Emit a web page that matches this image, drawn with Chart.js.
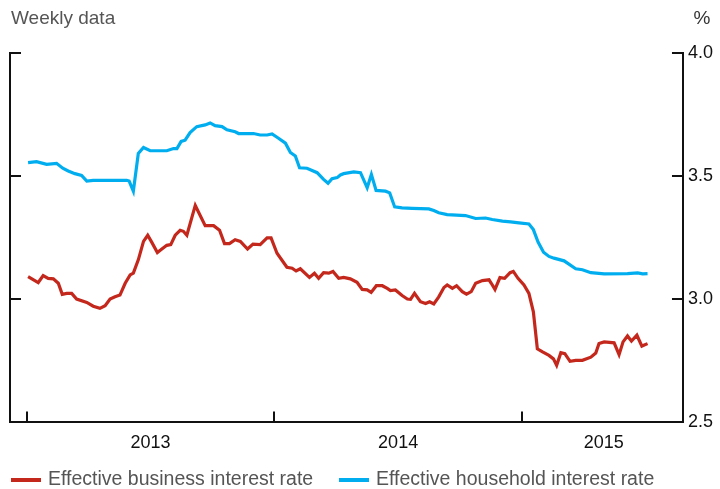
<!DOCTYPE html>
<html>
<head>
<meta charset="utf-8">
<script src="https://cdn.jsdelivr.net/npm/chart.js@4/dist/chart.umd.min.js"></script>
<style>
  html, body { margin: 0; padding: 0; background: #fff; }
  #wrap { width: 720px; height: 489px; }
</style>
</head>
<body>
<div id="wrap"><canvas id="chart"></canvas></div>
<script>
// weekly readings, x in decimal years
const businessDates = [2013.006,2013.047,2013.067,2013.087,2013.108,2013.128,2013.144,2013.162,2013.182,2013.202,2013.243,2013.269,2013.296,2013.317,2013.337,2013.357,2013.377,2013.398,2013.418,2013.431,2013.451,2013.472,2013.489,2013.505,2013.528,2013.546,2013.566,2013.582,2013.600,2013.620,2013.633,2013.647,2013.681,2013.721,2013.755,2013.779,2013.799,2013.819,2013.842,2013.863,2013.892,2013.914,2013.943,2013.971,2013.987,2014.011,2014.051,2014.072,2014.088,2014.105,2014.142,2014.162,2014.179,2014.199,2014.220,2014.237,2014.260,2014.280,2014.307,2014.334,2014.355,2014.375,2014.391,2014.412,2014.436,2014.456,2014.469,2014.489,2014.516,2014.537,2014.550,2014.566,2014.590,2014.611,2014.627,2014.644,2014.664,2014.685,2014.698,2014.719,2014.736,2014.759,2014.776,2014.795,2014.813,2014.840,2014.867,2014.876,2014.891,2014.911,2014.930,2014.952,2014.965,2014.984,2015.008,2015.028,2015.046,2015.062,2015.083,2015.109,2015.127,2015.140,2015.157,2015.173,2015.194,2015.217,2015.244,2015.278,2015.298,2015.311,2015.332,2015.372,2015.392,2015.408,2015.426,2015.442,2015.464,2015.484,2015.507];
const businessRate = [3.092,3.068,3.096,3.085,3.083,3.065,3.020,3.024,3.024,3.001,2.987,2.972,2.963,2.974,3.001,3.010,3.017,3.065,3.099,3.106,3.160,3.235,3.260,3.232,3.190,3.204,3.219,3.222,3.260,3.280,3.276,3.260,3.381,3.299,3.299,3.280,3.226,3.226,3.242,3.235,3.204,3.224,3.222,3.249,3.249,3.187,3.130,3.126,3.115,3.124,3.089,3.106,3.085,3.108,3.106,3.113,3.085,3.089,3.083,3.069,3.040,3.038,3.028,3.055,3.055,3.044,3.035,3.038,3.015,3.001,3.000,3.024,2.990,2.983,2.990,2.981,3.010,3.048,3.058,3.044,3.055,3.031,3.021,3.031,3.065,3.076,3.079,3.065,3.040,3.088,3.085,3.108,3.113,3.085,3.058,3.024,2.949,2.799,2.786,2.772,2.758,2.732,2.783,2.779,2.748,2.752,2.752,2.765,2.782,2.820,2.827,2.823,2.775,2.827,2.851,2.830,2.854,2.810,2.820];

const householdDates = [2013.006,2013.040,2013.081,2013.121,2013.146,2013.168,2013.195,2013.222,2013.243,2013.269,2013.404,2013.414,2013.431,2013.451,2013.472,2013.499,2013.566,2013.593,2013.607,2013.624,2013.640,2013.660,2013.687,2013.721,2013.741,2013.761,2013.789,2013.809,2013.842,2013.856,2013.916,2013.943,2013.971,2013.991,2014.017,2014.045,2014.065,2014.085,2014.102,2014.132,2014.173,2014.199,2014.217,2014.233,2014.254,2014.267,2014.280,2014.321,2014.348,2014.375,2014.392,2014.411,2014.449,2014.466,2014.486,2014.516,2014.557,2014.624,2014.644,2014.664,2014.698,2014.772,2014.813,2014.853,2014.880,2014.921,2014.954,2014.988,2015.028,2015.046,2015.065,2015.087,2015.109,2015.129,2015.170,2015.217,2015.244,2015.278,2015.332,2015.426,2015.467,2015.487,2015.507];
const householdRate = [3.555,3.559,3.548,3.552,3.532,3.521,3.510,3.503,3.480,3.483,3.483,3.480,3.439,3.592,3.616,3.603,3.603,3.612,3.612,3.641,3.646,3.677,3.701,3.708,3.716,3.705,3.701,3.688,3.680,3.673,3.673,3.667,3.667,3.671,3.654,3.634,3.596,3.582,3.534,3.532,3.514,3.487,3.471,3.490,3.494,3.505,3.510,3.517,3.514,3.453,3.507,3.442,3.439,3.432,3.375,3.371,3.369,3.367,3.360,3.351,3.344,3.340,3.328,3.330,3.324,3.317,3.314,3.310,3.306,3.283,3.232,3.191,3.174,3.167,3.156,3.124,3.120,3.108,3.103,3.104,3.107,3.103,3.104];

const seriesNames = ['Effective business interest rate', 'Effective household interest rate'];
const seriesColors = ['#c4281c', '#00aeef'];
const yearLabels = ['2013', '2014', '2015'];
const yearStarts = [2013, 2014, 2015];
const yearLabelPos = [2013.5, 2014.5, 2015.33];
const yTicks = [2.5, 3.0, 3.5, 4.0];

const FONT = "'Liberation Sans', Arial, sans-serif";

function toPoints(xs, ys) {
    return xs.map((x, i) => ({ x: x, y: ys[i] }));
}

// inward tick marks, header texts and legend
const decorations = {
    id: 'decorations',
    afterDraw(chart) {
        const ctx = chart.ctx;
        const area = chart.chartArea;
        const xs = chart.scales.x;
        const ys = chart.scales.y;
        ctx.save();
        ctx.strokeStyle = '#111';
        ctx.lineWidth = 2;
        ctx.beginPath();
        yTicks.slice(1).forEach(v => {
            const y = Math.round(ys.getPixelForValue(v));
            ctx.moveTo(area.left, y);
            ctx.lineTo(area.left + 11, y);
            ctx.moveTo(area.right - 11, y);
            ctx.lineTo(area.right, y);
        });
        yearStarts.forEach(v => {
            const x = Math.round(xs.getPixelForValue(v));
            ctx.moveTo(x, area.bottom);
            ctx.lineTo(x, area.bottom - 11);
        });
        ctx.stroke();

        ctx.font = '19px ' + FONT;
        ctx.textBaseline = 'middle';
        ctx.fillStyle = '#555';
        ctx.textAlign = 'left';
        ctx.fillText('Weekly data', 11, 19);
        ctx.fillStyle = '#333';
        ctx.textAlign = 'center';
        ctx.fillText('%', 702, 19);

        // legend
        const legendX = [11, 339];
        ctx.font = '19.5px ' + FONT;
        ctx.textAlign = 'left';
        chart.data.datasets.forEach((ds, i) => {
            ctx.fillStyle = ds.borderColor;
            ctx.fillRect(legendX[i], 478, 30, 4);
            ctx.fillStyle = '#555';
            ctx.fillText(ds.label, legendX[i] + 37, 480);
        });
        ctx.restore();
    }
};

const ctx = document.querySelector('#chart').getContext('2d');

const myChart = new Chart(ctx, {
    type: 'line',
    data: {
        datasets: [{
            label: seriesNames[0],
            data: toPoints(businessDates, businessRate),
            borderColor: seriesColors[0],
            backgroundColor: seriesColors[0],
            borderWidth: 3.2,
            pointRadius: 0,
            tension: 0
        }, {
            label: seriesNames[1],
            data: toPoints(householdDates, householdRate),
            borderColor: seriesColors[1],
            backgroundColor: seriesColors[1],
            borderWidth: 3.2,
            pointRadius: 0,
            tension: 0
        }]
    },
    options: {
        responsive: true,
        maintainAspectRatio: false,
        animation: false,
        layout: { padding: { left: 10, right: 2, top: 53, bottom: 25 } },
        plugins: {
            legend: { display: false },
            tooltip: { enabled: false }
        },
        scales: {
            x: {
                type: 'linear',
                min: 2012.933,
                max: 2015.65,
                afterBuildTicks: axis => { axis.ticks = yearLabelPos.map(v => ({ value: v })); },
                ticks: {
                    autoSkip: false,
                    maxRotation: 0,
                    padding: 10,
                    color: '#111',
                    font: { family: FONT, size: 18 },
                    callback: (v, i) => yearLabels[i]
                },
                grid: { display: false, drawTicks: false },
                border: { display: true, color: '#111', width: 2 }
            },
            y: {
                position: 'right',
                min: 2.5,
                max: 4.0,
                afterBuildTicks: axis => { axis.ticks = yTicks.map(v => ({ value: v })); },
                ticks: {
                    padding: 5,
                    color: '#111',
                    font: { family: FONT, size: 18 },
                    callback: v => v.toFixed(1)
                },
                grid: { display: false, drawTicks: false },
                border: { display: true, color: '#111', width: 2 }
            },
            yLeft: {
                position: 'left',
                min: 2.5,
                max: 4.0,
                ticks: { display: false },
                grid: { display: false, drawTicks: false },
                border: { display: true, color: '#111', width: 2 }
            }
        }
    },
    plugins: [decorations]
});
</script>
</body>
</html>
